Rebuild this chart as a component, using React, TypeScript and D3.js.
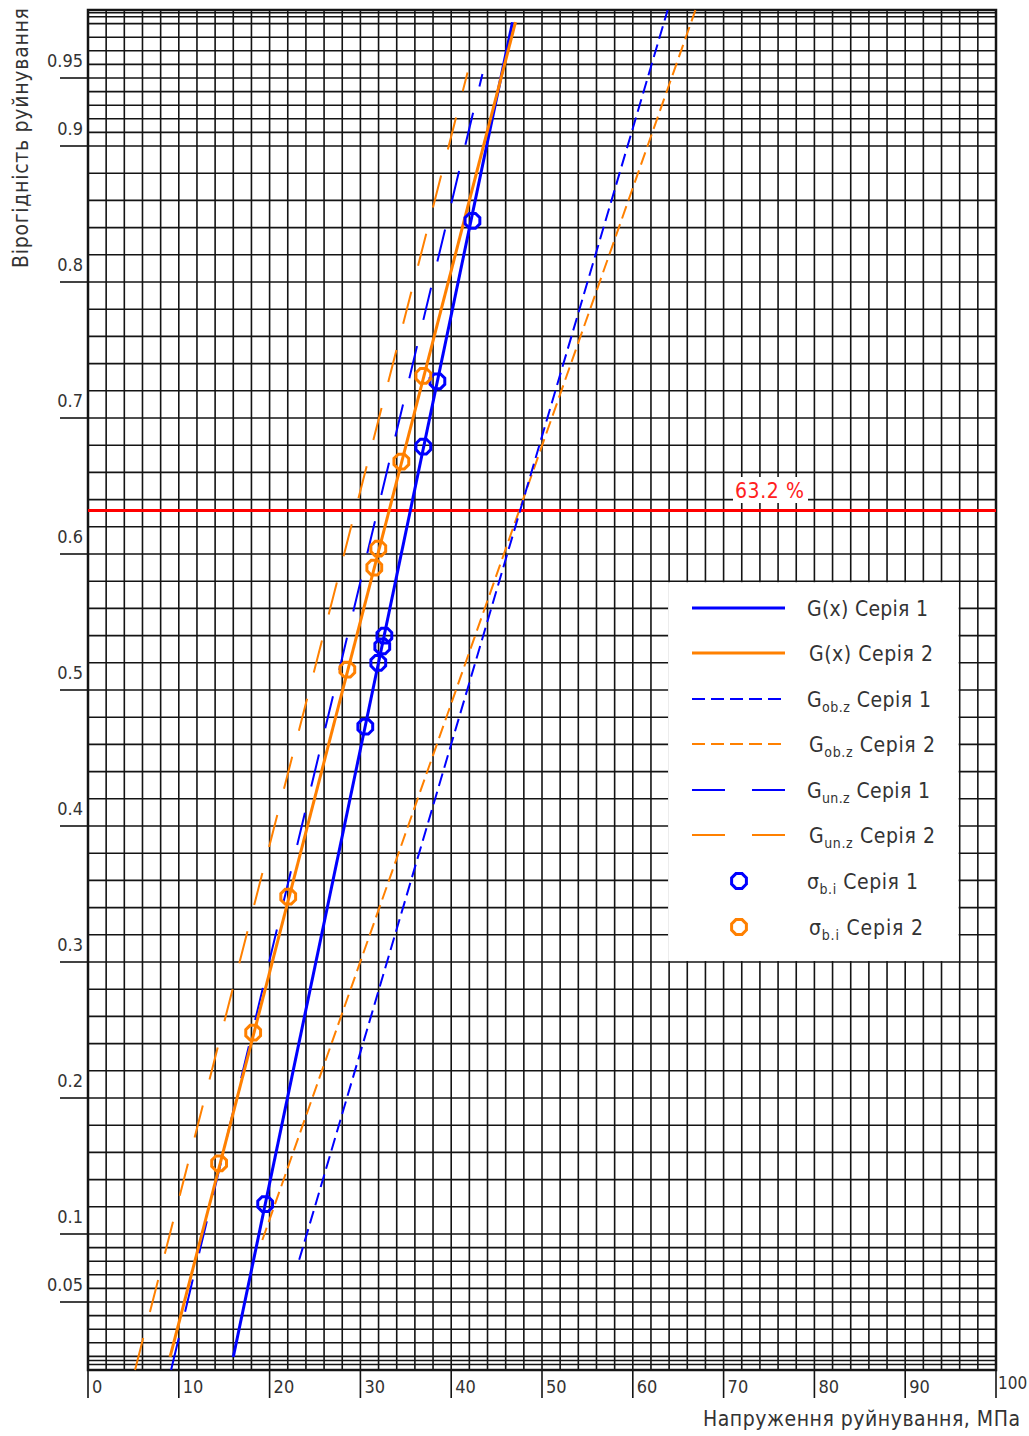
import * as d3 from 'd3';

const W = 1029;
const H = 1436;
const MARGIN = { top: 10, right: 33, bottom: 66, left: 88 };
const FONT = "'Liberation Sans Narrow', 'DejaVu Sans Condensed', sans-serif";
const TEXT_COLOR = '#333';
const BLUE = '#0000ff';
const ORANGE = '#ff8000';

// tick labels
const X_TICKS = [0, 10, 20, 30, 40, 50, 60, 70, 80, 90, 100];
const Y_LABELS = [0.05, 0.1, 0.2, 0.3, 0.4, 0.5, 0.6, 0.7, 0.8, 0.9, 0.95];
const Y_FINE_LOW = [0, 0.004, 0.007, 0.01, 0.02, 0.03, 0.04, 0.05, 0.06, 0.07, 0.08, 0.09];
const Y_FINE_HIGH = [0.91, 0.92, 0.93, 0.94, 0.95, 0.96, 0.97, 0.98, 0.99, 0.995, 0.998, 1];

// fitted distribution lines [stress, probability] start / end
const G_SERIES_1 = [[16.0, 0.0096], [46.75, 0.991]];
const G_SERIES_2 = [[9.04, 0.0096], [47.08, 0.991]];
const GOB_SERIES_1 = [[23.26, 0.081], [63.84, 1.0]];
const GOB_SERIES_2 = [[19.2, 0.0956], [66.9, 1.0]];
const GUN_SERIES_1 = [[9.15, 0.0], [43.44, 0.953]];
const GUN_SERIES_2 = [[5.18, 0.0], [41.8, 0.954]];

// measured strengths sigma_b.i
const POINTS_1 = [[42.34, 0.845], [38.48, 0.727], [36.93, 0.679], [32.64, 0.54], [32.41, 0.532], [31.97, 0.52], [30.54, 0.473], [19.51, 0.122]];
const POINTS_2 = [[36.93, 0.731], [34.51, 0.668], [31.97, 0.604], [31.53, 0.59], [28.56, 0.515], [22.05, 0.348], [18.19, 0.248], [14.44, 0.152]];

const LEVEL = 0.632;

const boundsW = W - MARGIN.left - MARGIN.right;
const boundsH = H - MARGIN.top - MARGIN.bottom;

const xScale = d3.scaleLinear().domain([0, 100]).range([MARGIN.left, MARGIN.left + boundsW]);
const yScale = d3.scaleLinear().domain([0, 1]).range([MARGIN.top + boundsH, MARGIN.top]);

const lineGen = d3.line<number[]>().x((d) => xScale(d[0])).y((d) => yScale(d[1]));

// octagon marker around a point
const octagon = (cx: number, cy: number, r: number) =>
  d3.range(8).map((i) => {
    const a = Math.PI / 8 + (i * Math.PI) / 4;
    return `${cx + r * Math.cos(a)},${cy + r * Math.sin(a)}`;
  }).join(' ');

const LEGEND = [
  { color: BLUE, dash: null, width: 3, main: 'G(x)', sub: '', series: 'Серія 1', len: 121 },
  { color: ORANGE, dash: null, width: 3, main: 'G(x)', sub: '', series: 'Серія 2', len: 124 },
  { color: BLUE, dash: '13,6', width: 2, main: 'G', sub: 'ob.z', series: 'Серія 1', len: 124 },
  { color: ORANGE, dash: '13,6', width: 2, main: 'G', sub: 'ob.z', series: 'Серія 2', len: 126 },
  { color: BLUE, dash: '33,27', width: 2, main: 'G', sub: 'un.z', series: 'Серія 1', len: 123 },
  { color: ORANGE, dash: '33,27', width: 2, main: 'G', sub: 'un.z', series: 'Серія 2', len: 126 },
  { color: BLUE, dash: 'marker', width: 3, main: 'σ', sub: 'b.i', series: 'Серія 1', len: 111 },
  { color: ORANGE, dash: 'marker', width: 3, main: 'σ', sub: 'b.i', series: 'Серія 2', len: 114 },
];
const LEGEND_Y = [608, 653, 699, 744, 790, 835, 881, 927];

export default function App() {
  const yGrid = [...Y_FINE_LOW, ...d3.range(0.1, 0.9001, 0.02), ...Y_FINE_HIGH];
  const xGrid = d3.range(0, 101, 2);
  const x0 = xScale(0);
  const x1 = xScale(100);
  const y0 = yScale(0);
  const y1 = yScale(1);

  const lines = [
    { d: GUN_SERIES_2, color: ORANGE, dash: '33,27', w: 2 },
    { d: GUN_SERIES_1, color: BLUE, dash: '33,27', w: 2 },
    { d: GOB_SERIES_2, color: ORANGE, dash: '13,6', w: 2 },
    { d: GOB_SERIES_1, color: BLUE, dash: '13,6', w: 2 },
    { d: G_SERIES_1, color: BLUE, dash: undefined, w: 3 },
    { d: G_SERIES_2, color: ORANGE, dash: undefined, w: 3 },
  ];

  return (
    <svg width={W} height={H} style={{ position: 'absolute', left: 0, top: 0, background: '#fff' }}>
      {/* grid */}
      <g stroke="#141414" strokeWidth={1.6}>
        {yGrid.map((p, i) => (
          <line key={'h' + i} x1={x0} x2={x1} y1={yScale(p)} y2={yScale(p)} />
        ))}
        {xGrid.map((v) => (
          <line key={'v' + v} x1={xScale(v)} x2={xScale(v)} y1={y1} y2={y0} />
        ))}
        {Y_LABELS.map((p) => (
          <line key={'t' + p} x1={60} x2={x0} y1={yScale(p)} y2={yScale(p)} />
        ))}
        {X_TICKS.map((v) => (
          <line key={'xt' + v} x1={xScale(v)} x2={xScale(v)} y1={y0} y2={y0 + 28} />
        ))}
      </g>
      <rect x={x0} y={y1} width={x1 - x0} height={y0 - y1} fill="none" stroke="#141414" strokeWidth={2.5} />

      {/* tick labels */}
      <g fontFamily={FONT} fontSize={18} fill={TEXT_COLOR}>
        {Y_LABELS.map((p) => (
          <text key={'yl' + p} x={83} y={yScale(p) - 11} textAnchor="end">
            {String(p)}
          </text>
        ))}
        {X_TICKS.map((v) =>
          v === 100 ? (
            <text key={'xl' + v} x={xScale(v) + 2} y={y0 + 19} fontSize={17}>
              {String(v)}
            </text>
          ) : (
            <text key={'xl' + v} x={xScale(v) + 4} y={y0 + 23}>
              {String(v)}
            </text>
          )
        )}
      </g>

      {/* axis titles */}
      <text x={703} y={1426} fontFamily={FONT} fontSize={21} fill={TEXT_COLOR} textLength={317} lengthAdjust="spacing">
        Напруження руйнування, МПа
      </text>
      <text
        transform={`translate(28,268) rotate(-90)`}
        fontFamily={FONT}
        fontSize={21}
        fill={TEXT_COLOR}
        textLength={260}
        lengthAdjust="spacing"
      >
        Вірогідність руйнування
      </text>

      {/* 63.2 % level */}
      <line x1={x0} x2={x1} y1={yScale(LEVEL)} y2={yScale(LEVEL)} stroke="#ff0000" strokeWidth={3} />
      <rect x={733} y={477} width={75} height={26} fill="#fff" />
      <text x={735} y={498} fontFamily={FONT} fontSize={21} fill="#ff2020" textLength={69} lengthAdjust="spacing">
        63.2 %
      </text>

      {/* distribution lines */}
      {lines.map((l, i) => (
        <path
          key={'l' + i}
          d={lineGen(l.d) ?? ''}
          fill="none"
          stroke={l.color}
          strokeWidth={l.w}
          strokeDasharray={l.dash}
        />
      ))}

      {/* points */}
      {POINTS_1.map((d, i) => (
        <polygon key={'p1' + i} points={octagon(xScale(d[0]), yScale(d[1]), 8)} fill="none" stroke={BLUE} strokeWidth={3} />
      ))}
      {POINTS_2.map((d, i) => (
        <polygon key={'p2' + i} points={octagon(xScale(d[0]), yScale(d[1]), 8)} fill="none" stroke={ORANGE} strokeWidth={3} />
      ))}

      {/* legend */}
      <rect x={xScale(64) - 1} y={yScale(0.58) + 1} width={xScale(96) - xScale(64)} height={yScale(0.3) - yScale(0.58) - 2} fill="#fff" />
      {LEGEND.map((item, i) => {
        const ly = LEGEND_Y[i];
        const tx = item.series.endsWith('2') ? 809 : 807;
        return (
          <g key={'lg' + i}>
            {item.dash === 'marker' ? (
              <polygon points={octagon(739, ly, 8)} fill="none" stroke={item.color} strokeWidth={3} />
            ) : (
              <line x1={692} x2={785} y1={ly} y2={ly} stroke={item.color} strokeWidth={item.width} strokeDasharray={item.dash ?? undefined} />
            )}
            <text x={tx} y={ly + 8} fontFamily={FONT} fontSize={21} fill={TEXT_COLOR} textLength={item.len} lengthAdjust="spacing">
              {item.main}
              {item.sub ? (
                <tspan fontSize={14} dy={5}>
                  {item.sub}
                </tspan>
              ) : null}
              <tspan dy={item.sub ? -5 : 0}>{'  ' + item.series}</tspan>
            </text>
          </g>
        );
      })}
    </svg>
  );
}
